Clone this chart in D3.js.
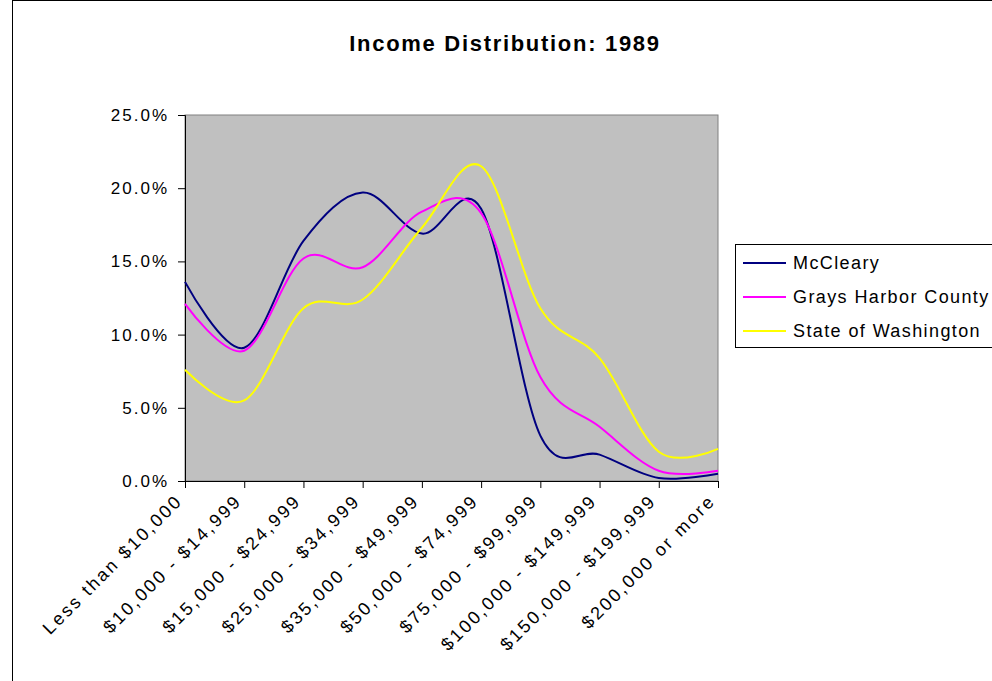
<!DOCTYPE html>
<html>
<head>
<meta charset="utf-8">
<script src="https://cdn.jsdelivr.net/npm/d3@7/dist/d3.min.js"></script>
<style>
  html, body { margin: 0; padding: 0; background: #fff; }
  svg { display: block; }
  text { font-family: Arial, "Liberation Sans", sans-serif; fill: #000; }
</style>
</head>
<body>
<svg id="chart" width="992" height="681"></svg>
<script>
// Household income brackets (1989)
const categories = [
  "Less than $10,000", "$10,000 - $14,999", "$15,000 - $24,999",
  "$25,000 - $34,999", "$35,000 - $49,999", "$50,000 - $74,999",
  "$75,000 - $99,999", "$100,000 - $149,999", "$150,000 - $199,999",
  "$200,000 or more"
];
// Share of households in each bracket (%)
const mcCleary     = [13.6, 9.1, 16.4, 19.7, 16.9, 18.6, 3.1, 1.8, 0.2, 0.5];
const graysHarbor  = [12.1, 8.9, 15.2, 14.6, 18.4, 18.3, 7.1, 3.7, 0.7, 0.7];
const washington   = [7.6, 5.5, 11.8, 12.4, 17.3, 21.5, 11.8, 8.4, 2.0, 2.2];
const seriesNames  = ["McCleary", "Grays Harbor County", "State of Washington"];
const seriesColors = ["#000080", "#FF00FF", "#FFFF00"];
const yTicks       = [0, 5, 10, 15, 20, 25];

const series = [mcCleary, graysHarbor, washington].map((values, i) => ({
  name: seriesNames[i], color: seriesColors[i], values
}));

const svg = d3.select("#chart");
const plot = { left: 185, right: 718, top: 115, bottom: 481 };

// chart area frame
svg.append("rect")
  .attr("x", 12.5).attr("y", 0.5)
  .attr("width", 1000).attr("height", 700)
  .attr("fill", "#fff").attr("stroke", "#000");

// title
svg.append("text")
  .attr("x", 505).attr("y", 51)
  .attr("text-anchor", "middle")
  .style("font-size", "22px").style("font-weight", "bold")
  .style("letter-spacing", "1.7px")
  .text("Income Distribution: 1989");

const x = d3.scalePoint().domain(categories).range([plot.left, plot.right]);
const y = d3.scaleLinear().domain([0, 25]).range([plot.bottom, plot.top]);

// plot area
svg.append("rect")
  .attr("x", plot.left).attr("y", plot.top)
  .attr("width", plot.right - plot.left).attr("height", plot.bottom - plot.top)
  .attr("fill", "#C0C0C0").attr("stroke", "#808080");

// value axis
const yAxis = svg.append("g")
  .attr("transform", `translate(${plot.left},0)`)
  .call(d3.axisLeft(y).tickValues(yTicks).tickSize(7).tickPadding(9)
    .tickFormat(d => d.toFixed(1) + "%"));
yAxis.select(".domain").attr("stroke", "#000");
yAxis.selectAll(".tick line").attr("stroke", "#000");
yAxis.selectAll("text")
  .attr("font-family", null)
  .attr("x", -16)
  .style("font-size", "17px").style("letter-spacing", "2px");

// category axis
const xAxis = svg.append("g")
  .attr("transform", `translate(0,${plot.bottom})`)
  .call(d3.axisBottom(x).tickSize(7).tickSizeOuter(0));
xAxis.select(".domain").attr("stroke", "#000");
xAxis.selectAll(".tick line").attr("stroke", "#000");
xAxis.selectAll("text")
  .attr("font-family", null)
  .style("font-size", "18px").style("letter-spacing", "2.4px")
  .attr("text-anchor", "end")
  .attr("dy", null).attr("y", 0)
  .attr("transform", "translate(-2,21) rotate(-45)");

// smoothed series lines
const line = d3.line()
  .x((d, i) => x(categories[i]))
  .y(d => y(d))
  .curve(d3.curveCatmullRom.alpha(0));

svg.append("g").selectAll("path")
  .data(series)
  .join("path")
  .attr("d", d => line(d.values))
  .attr("fill", "none")
  .attr("stroke", d => d.color)
  .attr("stroke-width", 2)
  .attr("stroke-linejoin", "round");

// legend
const legend = svg.append("g");
legend.append("rect")
  .attr("x", 735.5).attr("y", 244.5)
  .attr("width", 300).attr("height", 103)
  .attr("fill", "#fff").attr("stroke", "#000");
const rows = legend.selectAll("g.row")
  .data(series)
  .join("g")
  .attr("class", "row")
  .attr("transform", (d, i) => `translate(0,${263 + i * 34})`);
rows.append("line")
  .attr("x1", 743).attr("x2", 786)
  .attr("stroke", d => d.color).attr("stroke-width", 2);
rows.append("text")
  .attr("x", 793).attr("dy", "0.35em")
  .style("font-size", "18px").style("letter-spacing", "1.4px")
  .text(d => d.name);
</script>
</body>
</html>
